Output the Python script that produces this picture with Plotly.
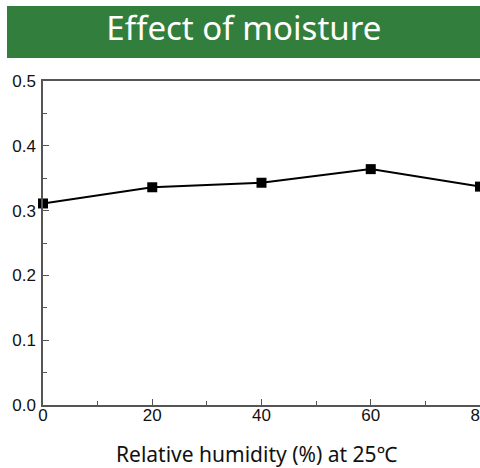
import plotly.graph_objects as go

humidity = [0, 20, 40, 60, 80]
effect = [0.311, 0.336, 0.343, 0.364, 0.337]
x_ticks = [0, 20, 40, 60, 80]
y_ticks = [0.0, 0.1, 0.2, 0.3, 0.4, 0.5]

fig = go.Figure()
fig.add_trace(go.Scatter(
    x=humidity, y=effect, mode='lines+markers',
    line=dict(color='#000', width=2),
    marker=dict(symbol='square', size=10, color='#000'),
    cliponaxis=False, showlegend=False,
))

# green banner behind the title
fig.add_shape(type='rect', xref='paper', yref='paper',
              x0=-0.0824, x1=1.0, y0=1.071, y1=1.2315,
              fillcolor='#327e3c', line=dict(width=0), layer='below')
fig.add_annotation(text='Relative humidity (%) at 25℃', xref='paper', yref='paper',
                   x=0.49, y=-0.152, xanchor='center', yanchor='middle',
                   showarrow=False,
                   font=dict(family='Noto Sans', size=21, color='#111'))

axis_font = dict(family='Liberation Sans, Arial', size=17, color='#111')
fig.update_layout(
    width=480, height=468,
    margin=dict(l=43, r=0, t=81, b=63, autoexpand=False),
    paper_bgcolor='#fff', plot_bgcolor='#fff',
    title=dict(text='Effect of moisture', x=0.508, xanchor='center',
               y=1 - 28 / 468, yanchor='middle', yref='container',
               font=dict(family='Noto Sans', size=33, color='#fff')),
    xaxis=dict(range=[0, 80], tickvals=x_ticks, ticks='inside', ticklen=6,
               tickwidth=1.2, tickcolor='#555', showgrid=False, zeroline=False,
               showline=True, linecolor='#555', linewidth=1.5, mirror=True,
               tickfont=axis_font, automargin=False, ticklabeloverflow='allow',
               ticklabelstandoff=-6,
               minor=dict(dtick=10, ticks='inside', ticklen=4, tickcolor='#555')),
    yaxis=dict(range=[0, 0.5], tickvals=y_ticks, tickformat='.1f', ticks='inside',
               ticklen=6, tickwidth=1.2, tickcolor='#555', showgrid=False,
               zeroline=False, showline=True, linecolor='#555', linewidth=1.5,
               mirror=True, tickfont=axis_font, ticklabelstandoff=2, automargin=False,
               minor=dict(dtick=0.05, ticks='inside', ticklen=4, tickcolor='#555')),
)

# page default body margin would shift the figure by 8px
fig.write_html("out.html", config={'displayModeBar': False},
               post_script="document.body.style.margin='0';")
